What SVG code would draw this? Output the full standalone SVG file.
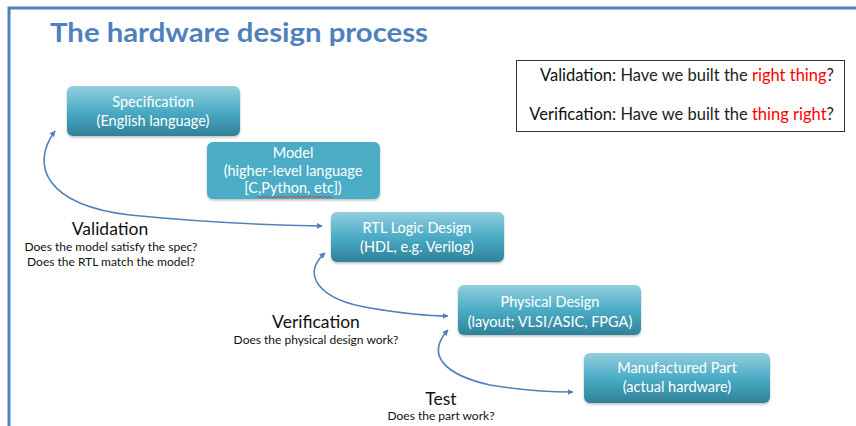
<svg xmlns="http://www.w3.org/2000/svg" width="856" height="426" viewBox="0 0 856 426">
<defs>
<linearGradient id="g" x1="0" y1="0" x2="0" y2="1">
<stop offset="0" stop-color="#93CEDD"/>
<stop offset="0.5" stop-color="#4BACC6"/>
<stop offset="1" stop-color="#2F8198"/>
</linearGradient>
<marker id="ah" viewBox="0 0 10 10" refX="9" refY="5" markerWidth="6" markerHeight="6" orient="auto-start-reverse" markerUnits="userSpaceOnUse">
<path d="M0,0 L10,5 L0,10 z" fill="#4F81BD"/>
</marker>
<filter id="sh" x="-10%" y="-10%" width="120%" height="130%">
<feDropShadow dx="0" dy="1.5" stdDeviation="1" flood-color="#000" flood-opacity="0.25"/>
</filter>
</defs>
<style>
.box{fill:url(#g);filter:url(#sh)}
.flat{fill:#4BACC6;filter:url(#sh)}
.bt{font-family:Lato,"Open Sans",sans-serif;font-size:14.5px;fill:#fff;text-anchor:middle}
.lh{font-family:Lato,"Open Sans",sans-serif;font-size:17.5px;fill:#111;text-anchor:middle}
.ls{font-family:Lato,"Open Sans",sans-serif;font-size:12px;fill:#111;text-anchor:middle}
.vt{font-family:Lato,"Open Sans",sans-serif;font-size:16.5px;fill:#222}
.red{fill:#FF0000}
.conn path{fill:none;stroke:#4F81BD;stroke-width:1.6;marker-start:url(#ah);marker-end:url(#ah)}
</style>
<rect width="856" height="426" fill="#fff"/>
<path d="M9,426 V8 H856" fill="none" stroke="#4F81BD" stroke-width="3"/>
<text x="50" y="42" font-family="Lato,'Open Sans',sans-serif" font-weight="bold" font-size="27" fill="#4F81BD" textLength="378" lengthAdjust="spacingAndGlyphs">The hardware design process</text>

<g id="legend">
<rect x="516.5" y="60.5" width="328" height="71" fill="#fff" stroke="#333" stroke-width="1"/>
<text class="vt" x="834" y="81" text-anchor="end"><tspan fill="#111">Validation:</tspan> Have we built the <tspan class="red">right thing</tspan>?</text>
<text class="vt" x="834" y="120" text-anchor="end"><tspan fill="#111">Verification:</tspan> Have we built the <tspan class="red">thing right</tspan>?</text>
</g>

<g id="spec">
<rect class="box" x="67" y="86" width="173" height="50" rx="6"/>
<text class="bt" x="153" y="107">Specification</text>
<text class="bt" x="153" y="126">(English language)</text>
</g>
<g id="model">
<rect class="flat" x="207" y="142" width="173" height="57" rx="6"/>
<text class="bt" x="293" y="158">Model</text>
<text class="bt" x="293" y="176">(higher-level language</text>
<text class="bt" x="293" y="193">[C,Python, etc])</text>
<path d="M257,197 q1,-1.5 2,0 t2,0 t2,0 t2,0 t2,0 t2,0 t2,0 t2,0 t2,0 t2,0 t2,0 t2,0 t2,0 t2,0 t2,0 t2,0 t2,0 t2,0 t2,0 t2,0 t2,0 t2,0 t2,0 t2,0 t2,0 t2,0 t2,0" fill="none" stroke="#e03030" stroke-width="0.8"/>
<path d="M312,197 q1,-1.5 2,0 t2,0 t2,0 t2,0 t2,0 t2,0 t2,0 t2,0 t2,0 t2,0" fill="none" stroke="#e03030" stroke-width="0.8"/>
</g>
<g id="rtl">
<rect class="box" x="331" y="212" width="173" height="50" rx="6"/>
<text class="bt" x="417" y="233">RTL Logic Design</text>
<text class="bt" x="417" y="252">(HDL, e.g. Verilog)</text>
</g>
<g id="physical">
<rect class="box" x="458" y="285" width="183" height="50" rx="6"/>
<text class="bt" x="550" y="307">Physical Design</text>
<text class="bt" x="550" y="327">(layout; VLSI/ASIC, FPGA)</text>
</g>
<g id="manufactured">
<rect class="box" x="584" y="353" width="186" height="50" rx="6"/>
<text class="bt" x="677" y="373">Manufactured Part</text>
<text class="bt" x="677" y="392">(actual hardware)</text>
</g>

<g id="connectors" class="conn">
<path d="M55,131 C30,165 45,205 130,215 C200,222 260,225 322,226"/>
<path d="M325,253 C300,275 320,300 370,308 C400,313 425,316 448,316"/>
<path d="M448,330 C425,355 445,375 490,385 C525,391 550,392 573,392"/>
</g>

<g id="labels">
<text class="lh" x="110" y="235">Validation</text>
<text class="ls" x="111" y="251">Does the model satisfy the spec?</text>
<text class="ls" x="111" y="266">Does the RTL match the model?</text>
<text class="lh" x="316" y="328">Verification</text>
<text class="ls" x="316" y="344">Does the physical design work?</text>
<text class="lh" x="441" y="405">Test</text>
<text class="ls" x="441" y="420">Does the part work?</text>
</g>
</svg>
